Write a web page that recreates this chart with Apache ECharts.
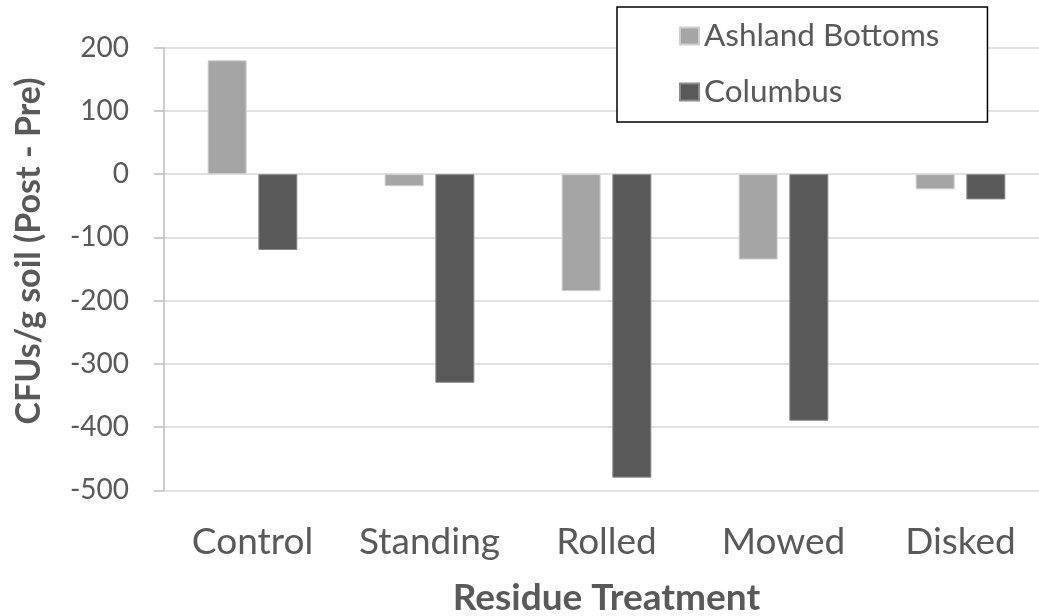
<!DOCTYPE html>
<html>
<head>
<meta charset="utf-8">
<script src="https://cdn.jsdelivr.net/npm/echarts@6/dist/echarts.min.js"></script>
<style>html,body{margin:0;padding:0;background:#fff;}#c{width:1039px;height:616px;}</style>
</head>
<body>
<div id="c"></div>
<script>
const categories = ['Control', 'Standing', 'Rolled', 'Mowed', 'Disked'];
const seriesNames = ['Ashland Bottoms', 'Columbus'];
const ashland = [180, -19, -185, -135, -24];
const columbus = [-120, -330, -480, -390, -40];
const yTicks = { min: -500, max: 200, interval: 100 };

const FONT = 'Lato';
const TXT = '#595959';
const chart = echarts.init(document.getElementById('c'), null, { renderer: 'canvas' });
chart.setOption({
  animation: false,
  backgroundColor: '#fff',
  textStyle: { fontFamily: FONT },
  grid: { left: 164, width: 885, top: 47.7, bottom: 125.7, containLabel: false, outerBoundsMode: 'none' },
  legend: {
    orient: 'vertical',
    left: 617, top: 7,
    padding: [13, 48, 14, 62],
    borderColor: '#000', borderWidth: 1.5,
    backgroundColor: '#fff',
    itemWidth: 19, itemHeight: 17, itemGap: 24,
    icon: 'rect',
    textStyle: { fontFamily: FONT, fontSize: 31.5, color: TXT, lineHeight: 30 },
    data: seriesNames
  },
  xAxis: {
    type: 'category',
    data: categories,
    axisLine: { show: false },
    axisTick: { show: false },
    axisLabel: { fontFamily: FONT, fontSize: 37, color: TXT, margin: 33, interval: 0 },
    name: 'Residue Treatment',
    nameLocation: 'middle',
    nameGap: 89,
    nameTextStyle: { fontFamily: FONT, fontSize: 37, fontWeight: 'bold', color: TXT }
  },
  yAxis: {
    type: 'value',
    min: yTicks.min, max: yTicks.max, interval: yTicks.interval,
    axisLine: { show: true, lineStyle: { color: '#bfbfbf', width: 1.5 } },
    axisTick: { show: true, length: 10, lineStyle: { color: '#bfbfbf', width: 1.5 } },
    splitLine: { show: true, lineStyle: { color: '#d9d9d9', width: 1.5 } },
    axisLabel: { fontFamily: FONT, fontSize: 28, color: TXT, margin: 35 },
    name: 'CFUs/g soil (Post - Pre)',
    nameLocation: 'middle',
    nameGap: 118,
    nameTextStyle: { fontFamily: FONT, fontSize: 34, fontWeight: 'bold', color: TXT, padding: [0, 0, 0, 36] }
  },
  series: [
    {
      name: seriesNames[0], type: 'bar', data: ashland,
      barWidth: 39, barGap: '30%',
      itemStyle: { color: '#a5a5a5', borderColor: '#cfcfcf', borderWidth: 1 }
    },
    {
      name: seriesNames[1], type: 'bar', data: columbus,
      barWidth: 39, barGap: '30%',
      itemStyle: { color: '#595959', borderColor: '#8a8a8a', borderWidth: 1 }
    }
  ]
});
</script>
</body>
</html>
